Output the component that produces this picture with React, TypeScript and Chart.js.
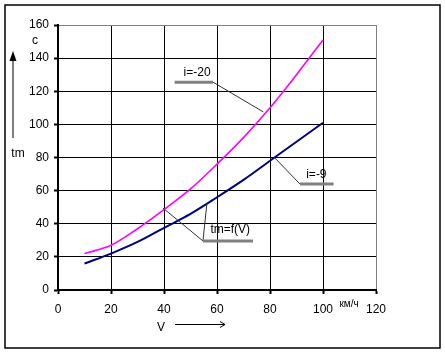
import React, { useEffect, useRef } from "react";
import { Chart, registerables } from "chart.js";

Chart.register(...registerables);

const speeds = [10, 20, 30, 40, 50, 60, 70, 80, 90, 100];
const tmSteep = [22, 27, 37, 48.5, 61, 76, 92, 110, 130, 151];
const tmMild = [16, 22, 29, 37.5, 46, 56, 66.5, 78, 89.5, 101];
const seriesNames = ["i=-20", "i=-9"];
const xTicks = [0, 20, 40, 60, 80, 100, 120];
const yTicks = [0, 20, 40, 60, 80, 100, 120, 140, 160];

// callout annotations in data coordinates
const callouts = [
  { text: "i=-20", tx: 52.5, ty: 131, bar: [44, 58.5, 125.5], anchors: [[77.5, 107.5]] },
  { text: "i=-9", tx: 97.5, ty: 69.5, bar: [91.3, 104, 64], anchors: [[81.5, 80.3]] },
  { text: "tm=f(V)", tx: 65, ty: 36.5, bar: [54.7, 73.6, 29.6], anchors: [[39.6, 49.5], [56.2, 52.5]], start: 54.7 },
];

const FONT = "'Liberation Sans', Arial, sans-serif";

const decor = {
  id: "decor",
  afterDraw(chart: any) {
    const ctx = chart.ctx;
    const xs = chart.scales.x;
    const ys = chart.scales.y;
    const ca = chart.chartArea;
    ctx.save();
    // callouts
    for (const c of callouts) {
      const [b0, b1, by] = c.bar;
      const bx0 = xs.getPixelForValue(b0);
      const bx1 = xs.getPixelForValue(b1);
      const byp = ys.getPixelForValue(by);
      ctx.strokeStyle = "#333";
      ctx.lineWidth = 1;
      const startX = c.text === "i=-20" ? bx1 : bx0;
      for (const a of c.anchors) {
        ctx.beginPath();
        ctx.moveTo(startX, byp);
        ctx.lineTo(xs.getPixelForValue(a[0]), ys.getPixelForValue(a[1]));
        ctx.stroke();
      }
      ctx.strokeStyle = "#808080";
      ctx.lineWidth = 3;
      ctx.beginPath();
      ctx.moveTo(bx0, byp);
      ctx.lineTo(bx1, byp);
      ctx.stroke();
      ctx.fillStyle = "#000";
      ctx.font = "12px " + FONT;
      ctx.textAlign = "center";
      ctx.textBaseline = "middle";
      ctx.fillText(c.text, xs.getPixelForValue(c.tx), ys.getPixelForValue(c.ty));
    }
    // axis captions
    ctx.fillStyle = "#000";
    ctx.font = "12px " + FONT;
    ctx.textAlign = "center";
    ctx.textBaseline = "middle";
    ctx.fillText("c", ca.left - 23, ca.top + 16);
    ctx.fillText("tm", ca.left - 40, ca.top + 129);
    ctx.fillText("V", ca.left + 103, ca.bottom + 38);
    ctx.font = "10px " + FONT;
    ctx.fillText("км/ч", ca.right - 27, ca.bottom + 14);
    // vertical arrow
    ctx.strokeStyle = "#000";
    ctx.lineWidth = 1;
    ctx.beginPath();
    ctx.moveTo(ca.left - 45, ca.top + 113);
    ctx.lineTo(ca.left - 45, ca.top + 30);
    ctx.stroke();
    ctx.beginPath();
    ctx.moveTo(ca.left - 45, ca.top + 26);
    ctx.lineTo(ca.left - 48.5, ca.top + 36);
    ctx.lineTo(ca.left - 41.5, ca.top + 36);
    ctx.closePath();
    ctx.fill();
    // horizontal arrow
    ctx.beginPath();
    ctx.moveTo(ca.left + 117, ca.bottom + 34.5);
    ctx.lineTo(ca.left + 167, ca.bottom + 34.5);
    ctx.stroke();
    ctx.beginPath();
    ctx.moveTo(ca.left + 162, ca.bottom + 31.5);
    ctx.lineTo(ca.left + 167, ca.bottom + 34.5);
    ctx.lineTo(ca.left + 162, ca.bottom + 37.5);
    ctx.stroke();
    // outer frame
    ctx.lineWidth = 1.5;
    ctx.strokeRect(5, 5, 435, 343);
    ctx.restore();
  },
};

export default function App() {
  const ref = useRef<HTMLCanvasElement>(null);
  useEffect(() => {
    const canvas = ref.current;
    if (!canvas) return;
    const chart = new Chart(canvas, {
      type: "line",
      data: {
        datasets: [
          {
            label: seriesNames[0],
            data: speeds.map((x, i) => ({ x, y: tmSteep[i] })),
            borderColor: "#FF00FF",
            borderWidth: 1.6,
            pointRadius: 0,
            cubicInterpolationMode: "monotone",
            fill: false,
          },
          {
            label: seriesNames[1],
            data: speeds.map((x, i) => ({ x, y: tmMild[i] })),
            borderColor: "#000080",
            borderWidth: 2,
            pointRadius: 0,
            cubicInterpolationMode: "monotone",
            fill: false,
          },
        ],
      },
      options: {
        animation: false,
        responsive: false,
        devicePixelRatio: 1,
        layout: { padding: { left: 0, right: 69, top: 25, bottom: 0 } },
        plugins: { legend: { display: false }, tooltip: { enabled: false } },
        scales: {
          x: {
            type: "linear",
            min: 0,
            max: 120,
            afterBuildTicks: (s: any) => {
              s.ticks = xTicks.map((v) => ({ value: v }));
            },
            afterFit: (s: any) => {
              s.height = 63;
            },
            border: { display: true, color: "#000", width: 2 },
            grid: {
              color: (c: any) => (c.tick && c.tick.value === 120 ? "#808080" : "#000"),
              lineWidth: 1,
              tickLength: 4,
              tickColor: "#000",
              tickWidth: 2,
              drawTicks: true,
            },
            ticks: {
              color: "#000",
              font: { family: FONT, size: 12 },
              padding: 8,
              maxRotation: 0,
            },
          },
          y: {
            type: "linear",
            min: 0,
            max: 160,
            afterBuildTicks: (s: any) => {
              s.ticks = yTicks.map((v) => ({ value: v }));
            },
            afterFit: (s: any) => {
              s.width = 58;
            },
            border: { display: true, color: "#000", width: 2 },
            grid: {
              color: (c: any) => (c.tick && c.tick.value === 160 ? "#808080" : "#000"),
              lineWidth: 1,
              tickLength: 4,
              tickColor: "#000",
              tickWidth: 2,
              drawTicks: true,
            },
            ticks: {
              color: "#000",
              font: { family: FONT, size: 12 },
              padding: 5,
            },
          },
        },
      },
      plugins: [decor],
    });
    return () => chart.destroy();
  }, []);
  return (
    <div style={{ position: "fixed", left: 0, top: 0, width: 445, height: 353, background: "#fff" }}>
      <canvas ref={ref} width={445} height={353} style={{ display: "block", width: 445, height: 353 }} />
    </div>
  );
}
